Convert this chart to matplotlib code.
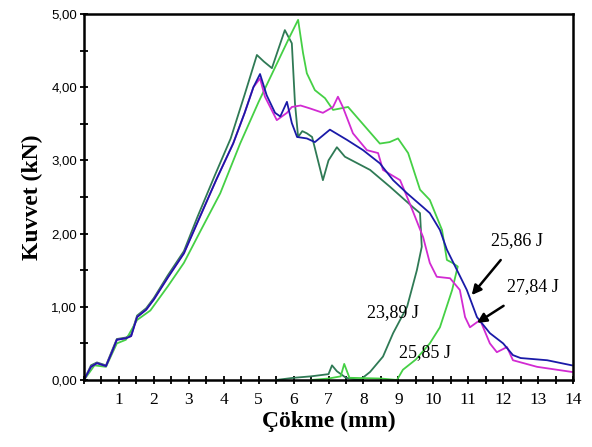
import matplotlib
matplotlib.use("Agg")
import matplotlib.pyplot as plt
from matplotlib.ticker import MultipleLocator, FixedLocator

# ---- data ----
blue_x = [0, 0.2, 0.37, 0.63, 0.8, 0.94, 1.2, 1.35, 1.52, 1.78, 2.0, 2.4, 2.86, 3.32, 3.8, 4.27,
          4.6, 4.85, 5.04, 5.23, 5.47, 5.62, 5.81, 5.95, 6.1, 6.38, 6.61, 7.04, 7.53, 7.99, 8.47,
          8.85, 9.25, 9.71, 9.9, 10.19, 10.39, 10.68, 10.96, 11.25, 11.62, 12.0, 12.28, 12.5, 13.26, 13.97]
blue_y = [0, 0.18, 0.23, 0.19, 0.38, 0.55, 0.57, 0.6, 0.86, 0.96, 1.1, 1.4, 1.73, 2.23, 2.75, 3.23,
          3.65, 4.0, 4.18, 3.89, 3.65, 3.6, 3.8, 3.51, 3.32, 3.3, 3.25, 3.42, 3.28, 3.14, 2.96,
          2.73, 2.55, 2.36, 2.28, 2.05, 1.78, 1.5, 1.23, 0.86, 0.64, 0.5, 0.34, 0.3, 0.27, 0.2]

mag_x = [0, 0.2, 0.37, 0.63, 0.8, 0.94, 1.2, 1.35, 1.52, 1.78, 2.0, 2.4, 2.86, 3.32, 3.8, 4.27,
         4.6, 4.85, 5.04, 5.18, 5.52, 5.81, 5.95, 6.2, 6.47, 6.84, 7.13, 7.27, 7.41, 7.7, 8.1, 8.42,
         8.56, 9.05, 9.25, 9.42, 9.71, 9.9, 10.1, 10.48, 10.76, 10.91, 11.05, 11.34, 11.62, 11.82,
         12.11, 12.28, 12.97, 13.97]
mag_y = [0, 0.18, 0.23, 0.19, 0.38, 0.55, 0.57, 0.6, 0.86, 0.96, 1.1, 1.4, 1.73, 2.23, 2.75, 3.23,
         3.65, 4.0, 4.12, 3.87, 3.55, 3.65, 3.73, 3.75, 3.71, 3.65, 3.73, 3.87, 3.73, 3.37, 3.14, 3.1,
         2.87, 2.73, 2.5, 2.3, 1.95, 1.6, 1.41, 1.39, 1.23, 0.86, 0.72, 0.82, 0.5, 0.38,
         0.45, 0.27, 0.18, 0.11]

dg_x = [0, 0.2, 0.37, 0.63, 0.8, 0.94, 1.2, 1.35, 1.52, 1.78, 2.0, 2.4, 2.86, 3.25, 3.75, 4.2,
        4.6, 4.95, 5.15, 5.38, 5.55, 5.75, 5.95, 6.04, 6.13, 6.25, 6.38, 6.53, 6.84, 7.0, 7.24,
        7.47, 8.19, 8.76, 9.42, 9.62, 9.67, 9.53, 9.25, 8.85, 8.56, 8.19, 7.9, 7.5, 7.24, 7.1,
        7.0, 6.5, 6.0, 5.5]
dg_y = [0, 0.2, 0.24, 0.2, 0.4, 0.56, 0.58, 0.62, 0.88, 0.98, 1.12, 1.43, 1.76, 2.23, 2.8, 3.3,
        3.9, 4.44, 4.35, 4.26, 4.5, 4.78, 4.6, 3.78, 3.32, 3.4, 3.37, 3.32, 2.73, 3.0, 3.18,
        3.05, 2.87, 2.64, 2.36, 2.28, 1.82, 1.5, 1.0, 0.64, 0.32, 0.11, 0.0, 0.03, 0.12, 0.2,
        0.08, 0.05, 0.03, 0.0]

lg_x = [0, 0.3, 0.63, 0.94, 1.2, 1.52, 1.9, 2.4, 2.86, 3.35, 3.9, 4.47, 5.0, 5.5, 5.9, 6.13,
        6.27, 6.38, 6.61, 6.9, 7.13, 7.56, 7.96, 8.47, 8.75, 8.99, 9.28, 9.62, 9.9, 10.25, 10.39,
        10.55, 10.7, 10.54, 10.19, 9.9, 9.5, 9.13, 8.96, 8.5, 7.6, 7.45, 7.35, 7.0, 6.5]
lg_y = [0, 0.2, 0.18, 0.5, 0.55, 0.82, 0.95, 1.28, 1.6, 2.05, 2.55, 3.23, 3.8, 4.3, 4.7, 4.92,
        4.47, 4.19, 3.96, 3.85, 3.69, 3.73, 3.51, 3.23, 3.25, 3.3, 3.1, 2.6, 2.46, 2.05, 1.64,
        1.6, 1.55, 1.23, 0.72, 0.5, 0.28, 0.14, 0.0, 0.02, 0.03, 0.22, 0.05, 0.02, 0.0]

labels = ["25,86 J", "27,84 J", "23,89 J", "25,85 J"]
xticks = list(range(1, 15))
yticks = [0, 1, 2, 3, 4, 5]
ytick_labels = ["0,00", "1,00", "2,00", "3,00", "4,00", "5,00"]

# ---- figure ----
fig = plt.figure(figsize=(5.92, 4.47), dpi=100)
ax = fig.add_axes([84/592, 1-380/447, (573-84)/592, (380-14)/447])

lw = 1.3
ax.plot(dg_x, dg_y, color="#2f7a55", lw=lw)
ax.plot(lg_x, lg_y, color="#45d045", lw=lw)
ax.plot(mag_x, mag_y, color="#d22ad2", lw=lw)
ax.plot(blue_x, blue_y, color="#1a1aa8", lw=lw)

ax.set_xlim(0, 14)
ax.set_ylim(0, 5)
ax.xaxis.set_major_locator(FixedLocator(xticks))
ax.xaxis.set_minor_locator(MultipleLocator(0.5))
ax.yaxis.set_major_locator(FixedLocator(yticks))
ax.yaxis.set_minor_locator(MultipleLocator(0.5))
ax.set_xticklabels([str(t) for t in xticks], family="Liberation Serif", fontsize=12.5)
ax.set_yticklabels(ytick_labels, family="Liberation Sans", fontsize=9.5)
ax.tick_params(which="both", direction="inout", width=1.3, length=6, color="black")
ax.tick_params(axis="x", pad=6)
ax.tick_params(axis="y", pad=2)
for s in ax.spines.values():
    s.set_linewidth(1.8)

ax.set_xlabel("Çökme (mm)", family="Liberation Serif", fontweight="bold", fontsize=17, labelpad=2)
ax.set_ylabel("Kuvvet (kN)", family="Liberation Serif", fontweight="bold", fontsize=17, labelpad=6)

tf = dict(family="Liberation Serif", fontsize=13, ha="center", va="center")
ax.annotate(labels[0], xy=(11.1, 1.16), xytext=(12.4, 1.91), **tf,
            arrowprops=dict(arrowstyle="-|>", color="black", lw=1.8, mutation_scale=14, shrinkA=8, shrinkB=0))
ax.annotate(labels[1], xy=(11.25, 0.78), xytext=(12.85, 1.27), **tf,
            arrowprops=dict(arrowstyle="-|>", color="black", lw=1.8, mutation_scale=14, shrinkA=10, shrinkB=0))
ax.text(8.85, 0.92, labels[2], **tf)
ax.text(9.76, 0.37, labels[3], **tf)

fig.savefig("out.png", dpi=100)
